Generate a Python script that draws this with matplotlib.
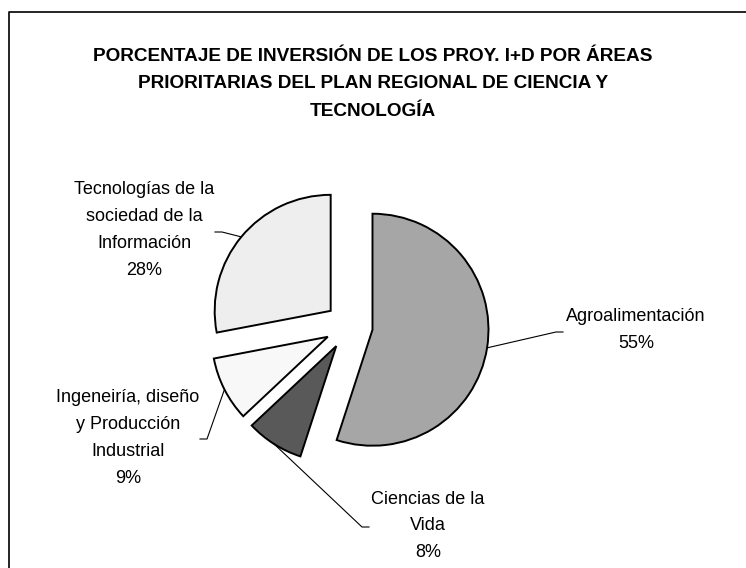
import numpy as np
import matplotlib
matplotlib.use("Agg")
import matplotlib.pyplot as plt
from matplotlib.lines import Line2D

plt.rcParams['font.family'] = ['Liberation Sans', 'DejaVu Sans']

# Data
categories = ['Agroalimentación', 'Ciencias de la\nVida',
              'Ingeneiría, diseño\ny Producción\nIndustrial',
              'Tecnologías de la\nsociedad de la\nInformación']
values = [55, 8, 9, 28]
colors = ['#A6A6A6', '#595959', '#F8F8F8', '#EEEEEE']

title = ('PORCENTAJE DE INVERSIÓN DE LOS PROY. I+D POR ÁREAS\n'
         'PRIORITARIAS DEL PLAN REGIONAL DE CIENCIA Y\nTECNOLOGÍA')

W, H = 746, 568
fig = plt.figure(figsize=(W / 100, H / 100), dpi=100)
ax = fig.add_axes([0, 0, 1, 1])

# pie center / radius in pixel units (y measured from bottom)
cx, cy, r = 349, H - 326, 116
wedges, _ = ax.pie(values, colors=colors, startangle=90, counterclock=False,
                   explode=[0.205 * r] * 4, radius=r, center=(cx, cy), frame=True,
                   wedgeprops=dict(edgecolor='black', linewidth=1.4))
ax.set_xlim(0, W)
ax.set_ylim(0, H)
ax.set_aspect('equal')
ax.axis('off')

# label anchor (end of leader line, in px from top) and text centers
label_pos = [(563, 332, 636, 330), (369, 527, 428, 526),
             (200, 439, 128, 438), (215, 232, 144, 230)]
for w, cat, v, (ex, ey, tx, ty) in zip(wedges, categories, values, label_pos):
    mid = np.deg2rad((w.theta1 + w.theta2) / 2)
    sx = w.center[0] + w.r * np.cos(mid)
    sy = w.center[1] + w.r * np.sin(mid)
    hx = ex + (-7 if ex > sx else 7)
    ax.plot([sx, hx, ex], [sy, H - ey, H - ey], color='black', lw=0.8)
    ax.text(tx, H - ty, f'{cat}\n{v}%', ha='center', va='center',
            fontsize=13, linespacing=1.75, multialignment='center')

fig.text(373 / W, 1 - 84 / H, title, ha='center', va='center',
         fontsize=13.7, fontweight='bold', linespacing=1.84)

# chart border (top and left visible)
fig.add_artist(Line2D([9 / W, 9 / W, 1], [0, 1 - 12 / H, 1 - 12 / H],
                      transform=fig.transFigure, color='black', lw=1.2))

fig.savefig('out.png', dpi=100)
